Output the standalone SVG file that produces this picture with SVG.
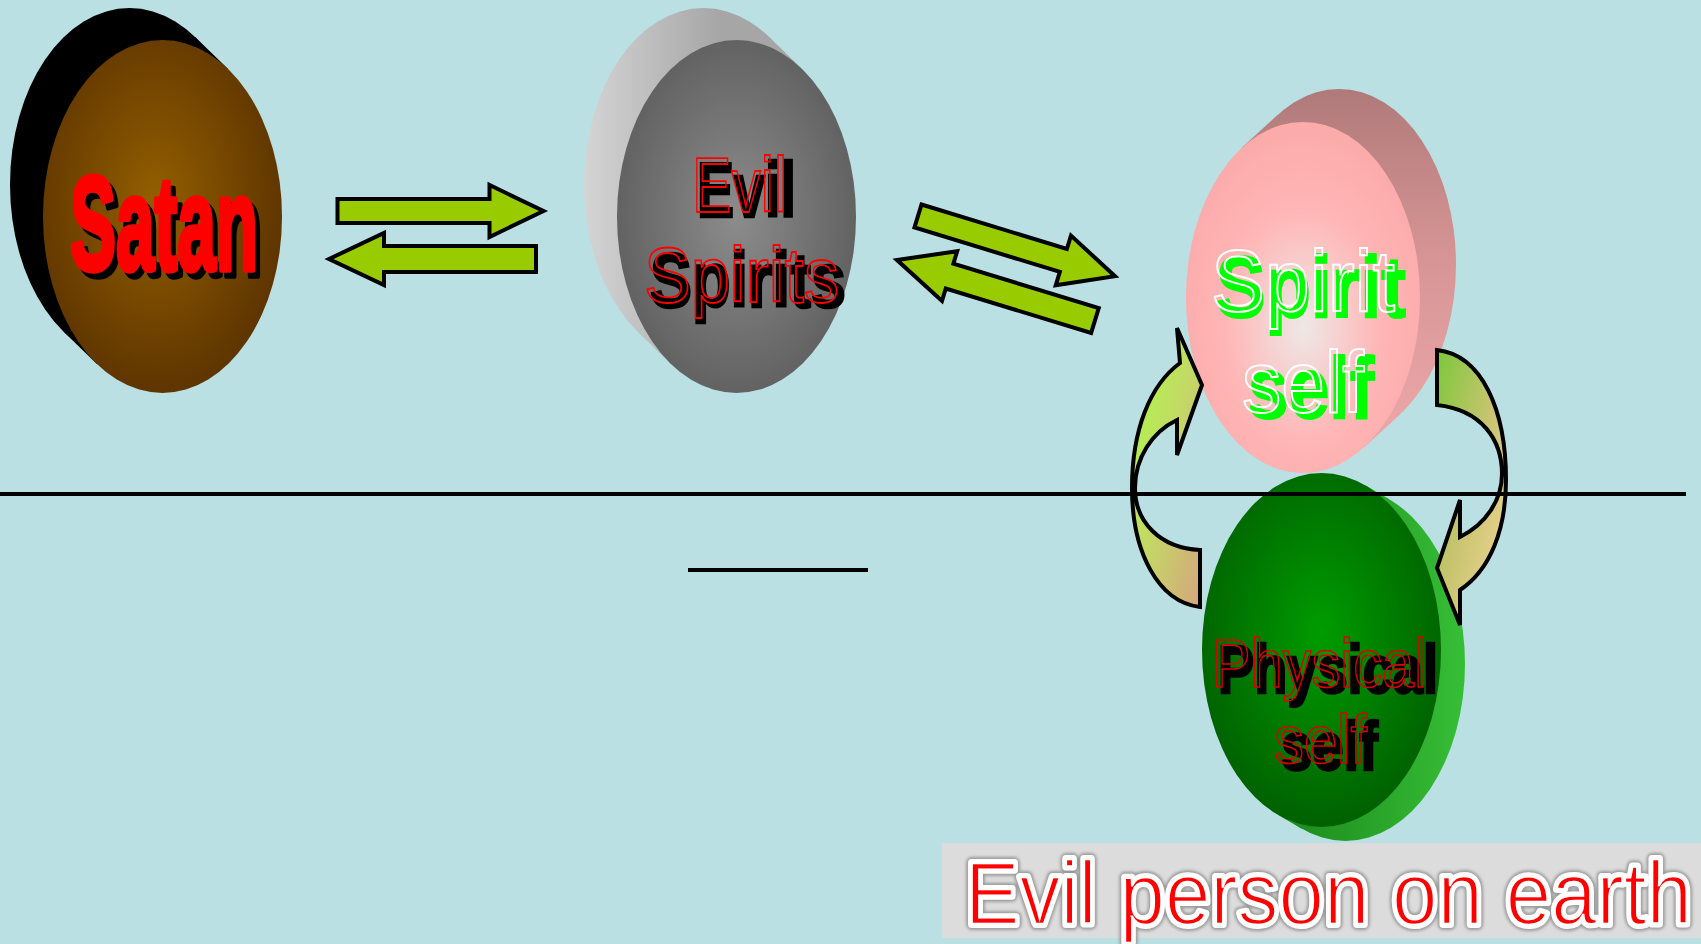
<svg xmlns="http://www.w3.org/2000/svg" width="1701" height="944" viewBox="0 0 1701 944">
<defs>
<style>
.arr{fill:#99cc00;stroke:#000;stroke-width:4;stroke-linejoin:miter}
.carr{stroke:#000;stroke-width:4;stroke-linejoin:miter}
.bold{font-family:"Liberation Sans",Arial,sans-serif;font-weight:bold}
.thin{font-family:"Liberation Sans",Arial,sans-serif;font-weight:normal}
.line{stroke:#000;stroke-width:4}
</style>
<radialGradient id="gSatan" cx="0.47" cy="0.45" r="0.6">
<stop offset="0" stop-color="#935f00"/>
<stop offset="1" stop-color="#5a3100"/>
</radialGradient>
<radialGradient id="gEvil" cx="0.5" cy="0.5" r="0.6">
<stop offset="0" stop-color="#8c8c8c"/>
<stop offset="1" stop-color="#5a5a5a"/>
</radialGradient>
<linearGradient id="gEvilBack" x1="585" y1="0" x2="720" y2="0" gradientUnits="userSpaceOnUse">
<stop offset="0" stop-color="#d4d4d4"/>
<stop offset="1" stop-color="#a6a6a6"/>
</linearGradient>
<radialGradient id="gSpirit" cx="0.5" cy="0.58" r="0.55">
<stop offset="0" stop-color="#eee8e6"/>
<stop offset="0.6" stop-color="#ffb6b6"/>
<stop offset="1" stop-color="#fcabab"/>
</radialGradient>
<linearGradient id="gSpiritBack" x1="0" y1="89" x2="0" y2="420" gradientUnits="userSpaceOnUse">
<stop offset="0" stop-color="#b07a7a"/>
<stop offset="0.5" stop-color="#d69494"/>
<stop offset="1" stop-color="#eaa6a6"/>
</linearGradient>
<radialGradient id="gPhys" cx="0.5" cy="0.45" r="0.6">
<stop offset="0" stop-color="#009c00"/>
<stop offset="1" stop-color="#005c00"/>
</radialGradient>
<linearGradient id="gPhysBack" x1="1300" y1="0" x2="1460" y2="0" gradientUnits="userSpaceOnUse">
<stop offset="0" stop-color="#1e8e1e"/>
<stop offset="1" stop-color="#36bd36"/>
</linearGradient>
<linearGradient id="gCL" x1="0" y1="0" x2="1" y2="1">
<stop offset="0" stop-color="#a8ff44"/>
<stop offset="0.5" stop-color="#c4d866"/>
<stop offset="1" stop-color="#d6a47e"/>
</linearGradient>
<linearGradient id="gCR" x1="0" y1="0" x2="1" y2="1">
<stop offset="0" stop-color="#7cc83a"/>
<stop offset="0.5" stop-color="#c8c470"/>
<stop offset="1" stop-color="#f6d898"/>
</linearGradient>
<filter id="blur" x="-5%" y="-20%" width="110%" height="140%">
<feGaussianBlur stdDeviation="1.6"/>
</filter>
<path id="arrR" d="M0,-12 H152 V-26 L206,0 L152,26 V12 H0 Z"/>
<path id="arrL" d="M0,0 L55,-26 V-13 H207 V13 H55 V26 Z"/>
</defs>

<rect x="0" y="0" width="1701" height="944" fill="#bae0e4"/>

<g id="satan">
<ellipse cx="129.5" cy="184.5" rx="119.5" ry="176.5" fill="#000"/>
<polygon points="195.1,36.9 228.1,68.9 96.9,364.1 63.9,332.1" fill="#000"/>
<ellipse cx="162.5" cy="216.5" rx="119.5" ry="176.5" fill="url(#gSatan)"/>
<text class="bold" x="75" y="276" font-size="134" textLength="188" lengthAdjust="spacingAndGlyphs" fill="#000" stroke="#000" stroke-width="5.5" stroke-linejoin="round">Satan</text>
<text class="bold" x="70" y="270" font-size="134" textLength="188" lengthAdjust="spacingAndGlyphs" fill="#ff0000" stroke="#ff0000" stroke-width="5.5" stroke-linejoin="round">Satan</text>
</g>

<g id="evil-spirits">
<ellipse cx="703.5" cy="184.5" rx="119.5" ry="176.5" fill="url(#gEvilBack)"/>
<polygon points="769.1,36.9 802.1,68.9 670.9,364.1 637.9,332.1" fill="url(#gEvilBack)"/>
<ellipse cx="736.5" cy="216.5" rx="119.5" ry="176.5" fill="url(#gEvil)"/>
<text class="bold" x="697" y="217" font-size="77" textLength="99" lengthAdjust="spacingAndGlyphs" fill="#000" stroke="#000" stroke-width="2.5">Evil</text>
<text class="thin" x="692" y="212" font-size="77" textLength="95" lengthAdjust="spacingAndGlyphs" fill="none" stroke="#ff0000" stroke-width="1.8">Evil</text>
<text class="bold" x="650" y="307" font-size="77" textLength="196" lengthAdjust="spacingAndGlyphs" fill="#000" stroke="#000" stroke-width="2.5">Spirits</text>
<text class="thin" x="644" y="302" font-size="77" textLength="195" lengthAdjust="spacingAndGlyphs" fill="none" stroke="#ff0000" stroke-width="1.8">Spirits</text>
</g>

<g id="spirit-self">
<ellipse cx="1339" cy="264.5" rx="117" ry="175.5" fill="url(#gSpiritBack)"/>
<polygon points="1278,114.6 1242,147.6 1364,447.4 1400,414.4" fill="url(#gSpiritBack)"/>
<ellipse cx="1303" cy="297.5" rx="117" ry="175.5" fill="url(#gSpirit)"/>
<text class="bold" x="1216" y="317" font-size="88" textLength="190" lengthAdjust="spacingAndGlyphs" fill="#00ff00" stroke="#00ff00" stroke-width="2">Spirit</text>
<text class="thin" x="1211" y="311" font-size="88" textLength="184" lengthAdjust="spacingAndGlyphs" fill="none" stroke="#ffffff" stroke-width="2">Spirit</text>
<text class="bold" x="1248" y="418" font-size="88" textLength="126" lengthAdjust="spacingAndGlyphs" fill="#00ff00" stroke="#00ff00" stroke-width="2">self</text>
<text class="thin" x="1242" y="412" font-size="88" textLength="122" lengthAdjust="spacingAndGlyphs" fill="none" stroke="#ffffff" stroke-width="2">self</text>
</g>

<g id="physical-self">
<ellipse cx="1345.5" cy="664" rx="119.5" ry="177" fill="url(#gPhysBack)"/>
<polygon points="1365.3,485.3 1389.3,499.3 1301.7,828.7 1277.7,814.7" fill="url(#gPhysBack)"/>
<ellipse cx="1321.5" cy="650" rx="119.5" ry="177" fill="url(#gPhys)"/>
<text class="bold" x="1218" y="693" font-size="68" textLength="220" lengthAdjust="spacingAndGlyphs" fill="#000" stroke="#000" stroke-width="2.5">Physical</text>
<text class="thin" x="1212" y="687" font-size="68" textLength="215" lengthAdjust="spacingAndGlyphs" fill="none" stroke="#dd0000" stroke-width="1.6">Physical</text>
<text class="bold" x="1281" y="770" font-size="68" textLength="97" lengthAdjust="spacingAndGlyphs" fill="#000" stroke="#000" stroke-width="2.5">self</text>
<text class="thin" x="1274" y="763" font-size="68" textLength="93" lengthAdjust="spacingAndGlyphs" fill="none" stroke="#dd0000" stroke-width="1.6">self</text>
</g>

<g id="connectors">
<use href="#arrR" class="arr" transform="translate(337.5,211)"/>
<use href="#arrL" class="arr" transform="translate(329,259)"/>
<use href="#arrR" class="arr" transform="translate(918,216) rotate(17)"/>
<use href="#arrL" class="arr" transform="translate(897,260) rotate(17)"/>
<path class="carr" fill="url(#gCL)" d="M1177,328 L1202,385 L1177,455 L1177,420 C1152,432 1135,458 1135,488 C1135,522 1160,548 1200,550 L1200,607 C1158,602 1132,552 1132,488 C1132,430 1150,385 1180,363 Z"/>
<path class="carr" fill="url(#gCR)" d="M1437,350 C1482,355 1506,410 1506,480 C1506,530 1490,570 1460,590 L1460,625 L1437,568 L1460,500 L1460,537 C1486,524 1502,500 1502,474 C1502,440 1482,410 1437,405 Z"/>
</g>

<g id="dividers">
<line class="line" x1="0" y1="494" x2="1686" y2="494"/>
<line class="line" x1="688" y1="570" x2="868" y2="570"/>
</g>

<g id="label">
<rect x="942" y="843" width="759" height="95" fill="#dcdcdc"/>
<text class="thin" x="965" y="924" font-size="89" textLength="727" lengthAdjust="spacingAndGlyphs" fill="none" stroke="#9a9a9a" stroke-width="12" stroke-linejoin="round" filter="url(#blur)">Evil person on earth</text>
<text class="thin" x="965" y="924" font-size="89" textLength="727" lengthAdjust="spacingAndGlyphs" fill="#fff" stroke="#fff" stroke-width="8" stroke-linejoin="round">Evil person on earth</text>
<text class="thin" x="965" y="924" font-size="89" textLength="727" lengthAdjust="spacingAndGlyphs" fill="#ff0000">Evil person on earth</text>
<text class="thin" x="965" y="924" font-size="89" textLength="727" lengthAdjust="spacingAndGlyphs" fill="none" stroke="#fff" stroke-width="2.5">Evil person on earth</text>
</g>
</svg>
